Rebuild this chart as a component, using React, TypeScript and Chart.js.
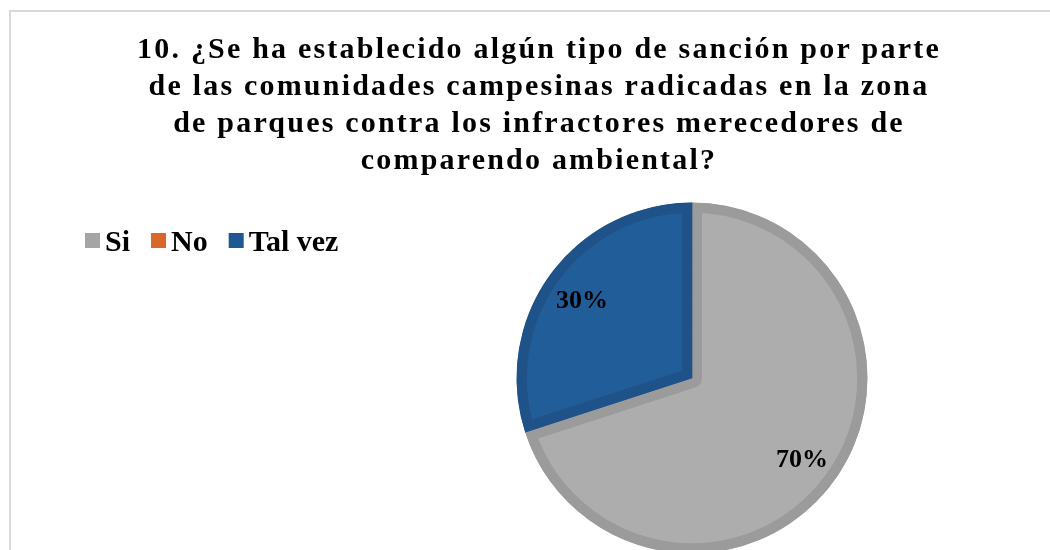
import { useEffect, useRef } from "react";
import { Chart, registerables } from "chart.js";

Chart.register(...registerables);

const titleLines = [
  "10. ¿Se ha establecido algún tipo de sanción por parte",
  "de las comunidades campesinas radicadas en la zona",
  "de parques contra los infractores merecedores de",
  "comparendo ambiental?",
];
const categories = ["Si", "No", "Tal vez"];
const values = [70, 0, 30];
const percentLabels = ["70%", "0%", "30%"];
const fillColors = ["#adadad", "#e06a2b", "#215e99"];
const borderColors = ["#9b9b9b", "#c55a1f", "#1f5289"];
const swatchColors = ["#a5a5a5", "#d9672a", "#1f5792"];

const FONT = '"Liberation Serif", "Times New Roman", serif';

const decorPlugin = {
  id: "decor",
  beforeDraw(chart: any) {
    const ctx = chart.ctx as CanvasRenderingContext2D;
    ctx.save();
    ctx.fillStyle = "#ffffff";
    ctx.fillRect(0, 0, chart.width, chart.height);
    ctx.fillStyle = "#d9d9d9";
    ctx.fillRect(9, 10, chart.width - 9, 2);
    ctx.fillRect(9, 10, 2, chart.height - 10);

    // title
    ctx.fillStyle = "#000000";
    ctx.font = `bold 30px ${FONT}`;
    ctx.textAlign = "center";
    ctx.textBaseline = "alphabetic";
    (ctx as any).letterSpacing = "2.2px";
    titleLines.forEach((line, i) => {
      ctx.fillText(line, 539, 58 + i * 37);
    });

    // legend
    (ctx as any).letterSpacing = "0px";
    ctx.textAlign = "left";
    ctx.font = `bold 30px ${FONT}`;
    let x = 85;
    categories.forEach((cat, i) => {
      ctx.fillStyle = swatchColors[i];
      ctx.fillRect(x, 233, 15, 15);
      ctx.fillStyle = "#000000";
      ctx.fillText(cat, x + 20, 251);
      x += 20 + ctx.measureText(cat).width + 21;
    });
    ctx.restore();
  },
  afterDatasetsDraw(chart: any) {
    const ctx = chart.ctx as CanvasRenderingContext2D;
    const meta = chart.getDatasetMeta(0);
    ctx.save();
    ctx.fillStyle = "#000000";
    ctx.font = `bold 26px ${FONT}`;
    ctx.textAlign = "center";
    ctx.textBaseline = "alphabetic";
    meta.data.forEach((arc: any, i: number) => {
      if (!values[i]) return;
      const p = arc.getProps(["x", "y", "startAngle", "endAngle", "outerRadius"], true);
      const mid = (p.startAngle + p.endAngle) / 2;
      const r = p.outerRadius * 0.775;
      const px = p.x + Math.cos(mid) * r;
      const py = p.y + Math.sin(mid) * r;
      ctx.fillText(percentLabels[i], px, py + 9.5);
    });
    ctx.restore();
  },
};

export default function App() {
  const ref = useRef<HTMLCanvasElement | null>(null);
  useEffect(() => {
    document.body.style.margin = "0";
    if (!ref.current) return;
    const chart = new Chart(ref.current, {
      type: "pie",
      data: {
        labels: categories,
        datasets: [
          {
            data: values,
            backgroundColor: fillColors,
            borderColor: borderColors,
            borderWidth: 10,
            borderAlign: "inner",
            hoverOffset: 0,
            clip: false,
          } as any,
        ],
      },
      options: {
        animation: false,
        responsive: false,
        events: [],
        radius: 175.5,
        layout: { padding: { left: 334, right: 0, top: 206, bottom: 0 } },
        plugins: {
          legend: { display: false },
          tooltip: { enabled: false },
          title: { display: false },
        },
      } as any,
      plugins: [decorPlugin],
    });
    return () => chart.destroy();
  }, []);
  return (
    <div style={{ width: 1050, height: 550, overflow: "hidden" }}>
      <canvas ref={ref} width={1050} height={550} style={{ display: "block" }} />
    </div>
  );
}
